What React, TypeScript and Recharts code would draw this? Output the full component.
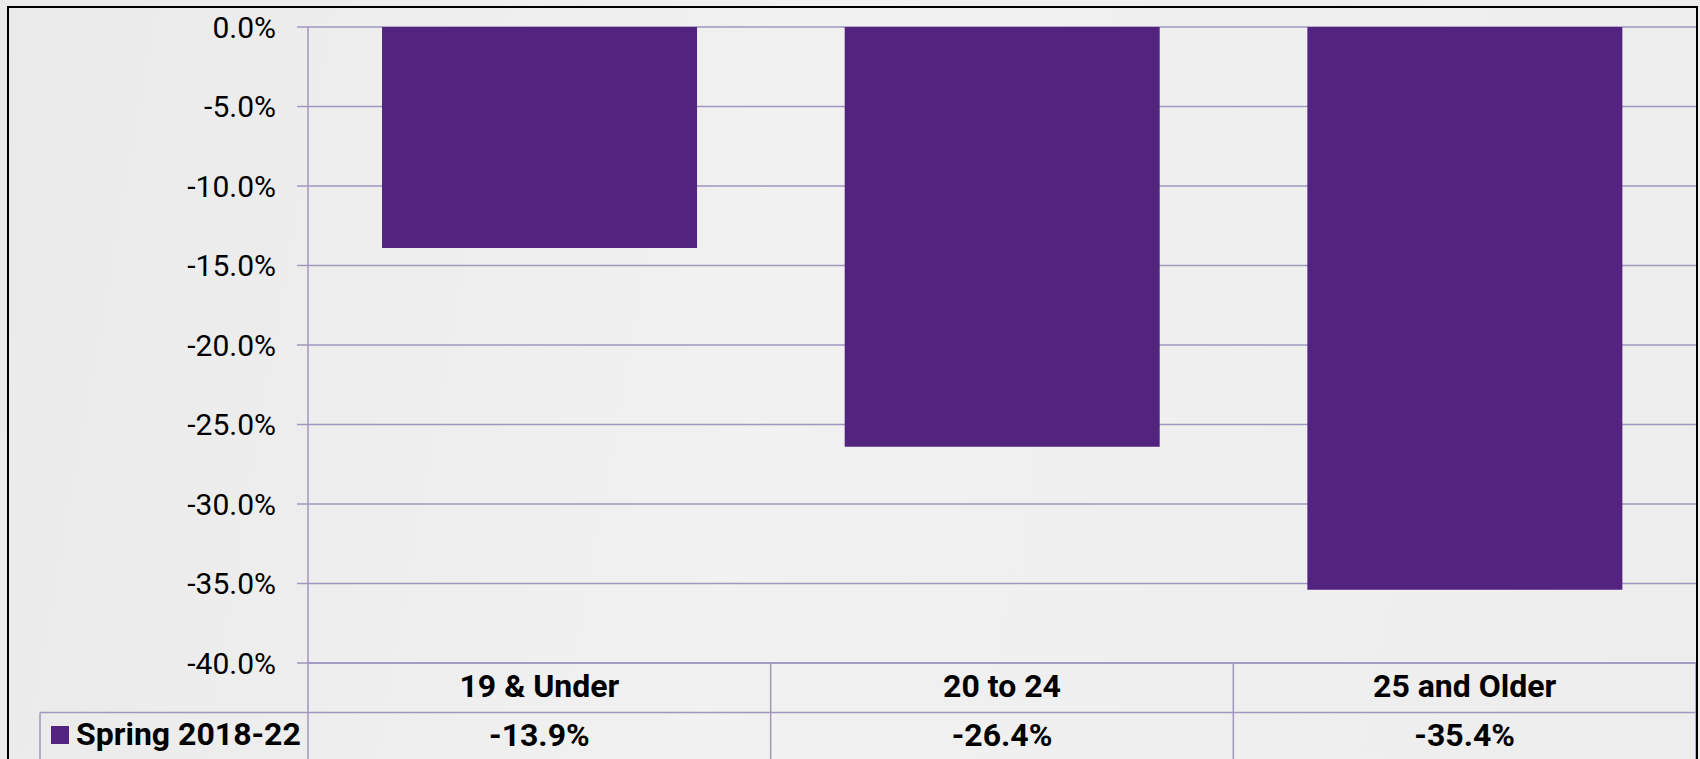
import { BarChart, Bar, XAxis, YAxis, CartesianGrid } from "recharts";

const categories = ["19 & Under", "20 to 24", "25 and Older"];
const spring201822 = [-13.9, -26.4, -35.4];
const yTicks = [0, -5, -10, -15, -20, -25, -30, -35, -40];
const seriesName = "Spring 2018-22";

const data = categories.map((name, i) => ({ name, value: spring201822[i] }));

const W = 1700;
const H = 759;
const M = { top: 27, right: 4, left: 0, bottom: 0 };
const Y_AXIS_W = 308;
const X_AXIS_H = 96;
const PLOT_BOTTOM = H - M.bottom - X_AXIS_H;
const PLOT_RIGHT = W - M.right;
const COL_W = (PLOT_RIGHT - Y_AXIS_W) / categories.length;
const ROW2_TOP = PLOT_BOTTOM + 49.5;
const BAR = "#52237F";
const LINE = "#A296BF";
const FONT = "Roboto, 'Noto Sans', sans-serif";
const TABLE_FS = 32;

const fmt = (v: number) => `${v.toFixed(1)}%`;

interface TickProps {
  x?: number;
  y?: number;
  payload?: { value: string; index: number };
}

// x axis tick draws the data table under the plot
function TableTick({ x = 0, payload }: TickProps) {
  if (!payload) return null;
  const i = payload.index;
  const left = x - COL_W / 2;
  const right = x + COL_W / 2;
  return (
    <g>
      {i === 0 && (
        <g>
          <line x1={40} x2={PLOT_RIGHT} y1={ROW2_TOP} y2={ROW2_TOP} stroke={LINE} strokeWidth={1.5} />
          <line x1={40} x2={40} y1={ROW2_TOP} y2={H} stroke={LINE} strokeWidth={1.5} />
          <line x1={left} x2={left} y1={PLOT_BOTTOM} y2={H} stroke={LINE} strokeWidth={1.5} />
          <rect x={51} y={726} width={18} height={18} fill={BAR} />
          <text x={76} y={745} fontFamily={FONT} fontSize={TABLE_FS} fontWeight={700} fill="#000">
            {seriesName}
          </text>
        </g>
      )}
      <line x1={right} x2={right} y1={PLOT_BOTTOM} y2={H} stroke={LINE} strokeWidth={1.5} />
      <text x={x} y={697} textAnchor="middle" fontFamily={FONT} fontSize={TABLE_FS} fontWeight={700} fill="#000">
        {payload.value}
      </text>
      <text x={x} y={746} textAnchor="middle" fontFamily={FONT} fontSize={TABLE_FS} fontWeight={700} fill="#000">
        {fmt(spring201822[i])}
      </text>
    </g>
  );
}

export default function App() {
  return (
    <div
      style={{
        position: "fixed",
        left: 0,
        top: 0,
        width: W,
        height: H,
        overflow: "hidden",
        background: "linear-gradient(100deg, #EAEAEA 0%, #F0F1F0 45%, #EDEDED 100%)",
      }}
    >
      <div style={{ position: "absolute", left: 0, top: 0 }}>
        <BarChart width={W} height={H} data={data} margin={M} barCategoryGap="16%">
          <CartesianGrid horizontal vertical={false} stroke={LINE} strokeWidth={1.5} />
          <XAxis
            dataKey="name"
            height={X_AXIS_H}
            axisLine={{ stroke: LINE, strokeWidth: 1.5 }}
            tickLine={false}
            tick={<TableTick />}
            interval={0}
          />
          <YAxis
            width={Y_AXIS_W}
            domain={[-40, 0]}
            ticks={yTicks}
            tickFormatter={fmt}
            axisLine={{ stroke: LINE, strokeWidth: 1.5 }}
            tickLine={{ stroke: LINE, strokeWidth: 1.5 }}
            tickSize={11}
            tickMargin={21}
            tick={{ fill: "#000", fontSize: 30, fontFamily: FONT }}
            allowDataOverflow
          />
          <Bar dataKey="value" fill={BAR} isAnimationActive={false} />
        </BarChart>
      </div>
      <div
        style={{
          position: "absolute",
          left: 7,
          top: 6,
          width: 1687,
          height: 800,
          border: "2px solid #000",
          pointerEvents: "none",
        }}
      />
    </div>
  );
}
